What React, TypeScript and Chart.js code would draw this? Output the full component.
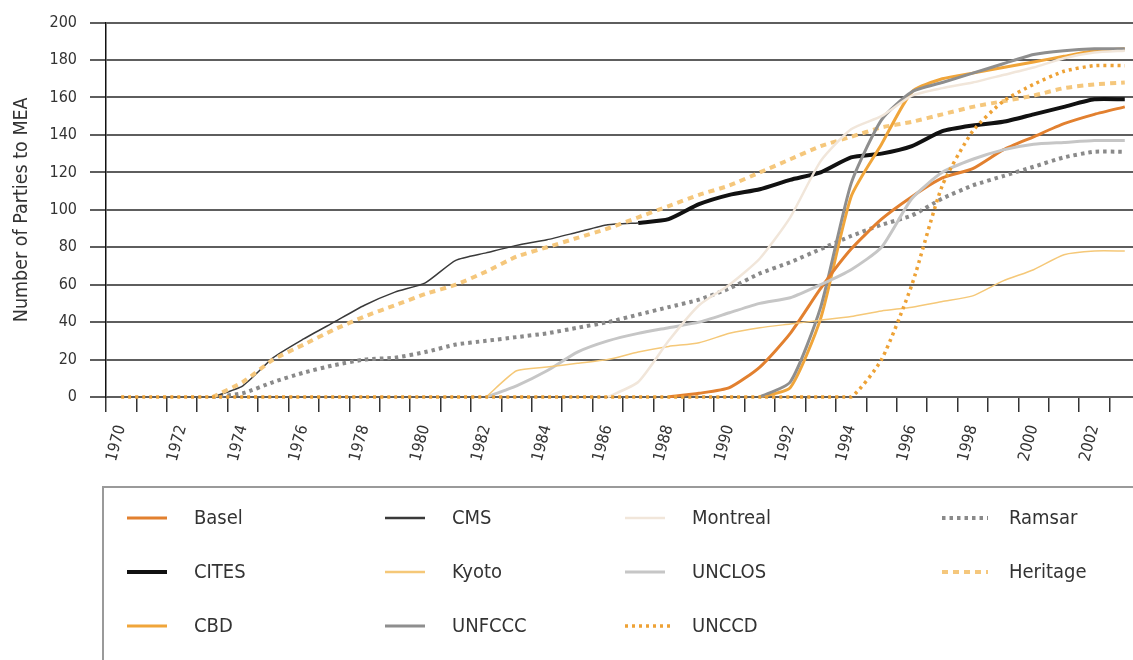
import React, { useEffect, useRef } from "react";
import { Chart, registerables } from "chart.js";

Chart.register(...registerables);

const years = [
  1970, 1971, 1972, 1973, 1974, 1975, 1976, 1977, 1978, 1979,
  1980, 1981, 1982, 1983, 1984, 1985, 1986, 1987, 1988, 1989,
  1990, 1991, 1992, 1993, 1994, 1995, 1996, 1997, 1998, 1999,
  2000, 2001, 2002, 2003,
];

const N = null;

const basel = [N, N, N, N, N, N, N, N, N, N, N, N, N, N, N, N, N, N,
  0, 2, 5, 16, 34, 58, 79, 95, 107, 117, 122, 132, 139, 146, 151, 155];
const cites = [N, N, N, N, N, N, N, N, N, N, N, N, N, N, N, N, N,
  93, 95, 103, 108, 111, 116, 120, 128, 130, 134, 142, 145, 147, 151, 155, 159, 159];
const cbd = [N, N, N, N, N, N, N, N, N, N, N, N, N, N, N, N, N, N, N, N, N,
  0, 5, 42, 107, 135, 163, 170, 173, 176, 179, 182, 185, 186];
const cms = [N, N, N, 0, 6, 21, 31, 40, 49, 56, 61, 73, 77, 81, 84, 88, 92, 93,
  N, N, N, N, N, N, N, N, N, N, N, N, N, N, N, N];
const kyoto = [N, N, N, N, N, N, N, N, N, N, N, N,
  0, 14, 16, 18, 20, 24, 27, 29, 34, 37, 39, 41, 43, 46, 48, 51, 54, 62, 68, 76, 78, 78];
const unfccc = [N, N, N, N, N, N, N, N, N, N, N, N, N, N, N, N, N, N, N, N, N,
  0, 8, 48, 114, 148, 163, 168, 173, 178, 183, 185, 186, 186];
const montreal = [N, N, N, N, N, N, N, N, N, N, N, N, N, N, N, N,
  0, 8, 30, 49, 60, 74, 96, 126, 143, 150, 161, 165, 168, 172, 176, 181, 184, 185];
const unclos = [N, N, N, N, N, N, N, N, N, N, N, N,
  0, 6, 14, 24, 30, 34, 37, 40, 45, 50, 53, 60, 68, 80, 106, 120, 127, 132, 135, 136, 137, 137];
const unccd = [0, 0, 0, 0, 0, 0, 0, 0, 0, 0, 0, 0, 0, 0, 0, 0, 0, 0, 0, 0, 0, 0, 0, 0, 0,
  20, 60, 113, 142, 158, 167, 174, 177, 177];
const ramsar = [N, N, N, 0, 2, 8, 13, 17, 20, 21, 24, 28, 30, 32, 34, 37, 40, 44, 48, 52,
  58, 66, 72, 79, 86, 92, 97, 106, 113, 118, 123, 128, 131, 131];
const heritage = [N, N, N, 0, 8, 20, 28, 36, 43, 49, 55, 60, 67, 75, 80, 85, 90, 96, 102, 108,
  113, 120, 127, 134, 139, 144, 147, 151, 155, 158, 161, 165, 167, 168];

const yTicks = [0, 20, 40, 60, 80, 100, 120, 140, 160, 180, 200];

const FONT = '"Liberation Sans Narrow", "Arial Narrow", "DejaVu Sans Condensed", "Liberation Sans", sans-serif';

// legend grid (column-major), by dataset label
const legendColumns = [
  ["Basel", "CITES", "CBD"],
  ["CMS", "Kyoto", "UNFCCC"],
  ["Montreal", "UNCLOS", "UNCCD"],
  ["Ramsar", "Heritage"],
];

export default function App() {
  const ref = useRef<HTMLCanvasElement>(null);

  useEffect(() => {
    if (!ref.current) return;

    const legendPlugin = {
      id: "boxLegend",
      afterDraw(chart: any) {
        const ctx = chart.ctx;
        ctx.save();
        ctx.strokeStyle = "#9a9a9a";
        ctx.lineWidth = 2;
        ctx.beginPath();
        ctx.moveTo(103, 700);
        ctx.lineTo(103, 487);
        ctx.lineTo(1300, 487);
        ctx.stroke();
        const colX = [127, 385, 625, 942];
        const rowY = [518, 572, 626];
        const dsByLabel: Record<string, any> = {};
        chart.data.datasets.forEach((d: any) => (dsByLabel[d.label] = d));
        legendColumns.forEach((col, ci) => {
          col.forEach((name, ri) => {
            const d = dsByLabel[name];
            const x = colX[ci];
            const y = rowY[ri];
            ctx.save();
            ctx.strokeStyle = d.borderColor;
            ctx.lineWidth = Math.max(2.5, d.borderWidth);
            ctx.setLineDash(d.borderDash || []);
            ctx.beginPath();
            ctx.moveTo(x, y);
            ctx.lineTo(x + (d.borderDash ? 46 : 40), y);
            ctx.stroke();
            ctx.restore();
            ctx.fillStyle = "#333";
            ctx.font = `20px ${FONT}`;
            ctx.textBaseline = "middle";
            ctx.textAlign = "left";
            ctx.fillText(name, x + 67, y + 1);
          });
        });
        ctx.restore();
      },
    };

    const line = (label: string, data: (number | null)[], color: string, width: number, order: number, dash?: number[]) => ({
      label,
      data,
      borderColor: color,
      backgroundColor: color,
      borderWidth: width,
      borderDash: dash,
      pointRadius: 0,
      tension: 0.2,
      fill: false,
      order,
      spanGaps: false,
      clip: 6,
    });

    const chart = new Chart(ref.current, {
      type: "line",
      data: {
        labels: years.map(String),
        datasets: [
          line("UNCCD", unccd, "#eea236", 3.5, 1, [3, 4]),
          line("Montreal", montreal, "#f1e6da", 2.5, 2),
          line("Kyoto", kyoto, "#f5c878", 1.5, 3),
          line("UNCLOS", unclos, "#c6c6c6", 3, 4),
          line("Basel", basel, "#e2802f", 3, 5),
          line("UNFCCC", unfccc, "#8e8e8e", 3, 6),
          line("CBD", cbd, "#f0a53a", 3, 7),
          line("Heritage", heritage, "#f5c77c", 4, 8, [6, 5]),
          line("CITES", cites, "#111111", 4, 9),
          line("CMS", cms, "#3a3a3a", 1.5, 10),
          line("Ramsar", ramsar, "#8a8a8a", 4, 11, [3.5, 4]),
        ],
      },
      options: {
        animation: false,
        responsive: false,
        layout: { padding: { top: 18, left: 0, right: 0, bottom: 0 } },
        plugins: {
          legend: { display: false },
          tooltip: { enabled: false },
        },
        scales: {
          x: {
            type: "category",
            offset: true,
            grid: {
              offset: true,
              drawOnChartArea: false,
              drawTicks: true,
              tickLength: 15,
              color: "#333",
              lineWidth: 1.5,
            },
            border: { display: false },
            ticks: {
              autoSkip: false,
              minRotation: 75,
              maxRotation: 75,
              padding: 11,
              color: "#333",
              font: { family: FONT, size: 16 },
              callback: (_v: any, i: number) => (years[i] % 2 === 0 ? String(years[i]) : ""),
            },
            afterFit: (s: any) => {
              s.height = 660 - 397;
              s.paddingLeft = 0;
              s.paddingRight = 0;
            },
          },
          y: {
            min: 0,
            max: 200,
            afterBuildTicks: (s: any) => {
              s.ticks = yTicks.map((v) => ({ value: v }));
            },
            grid: {
              color: "#5e5e5e",
              lineWidth: 2,
              tickLength: 16,
            },
            border: { display: true, color: "#111", width: 1.5 },
            ticks: {
              padding: 13,
              color: "#333",
              font: { family: FONT, size: 16 },
            },
            title: {
              display: true,
              text: "Number of Parties to MEA",
              color: "#333",
              font: { family: FONT, size: 19.5 },
              padding: { top: 10, bottom: 0 },
            },
            afterFit: (s: any) => {
              s.width = 106;
            },
          },
        },
      },
      plugins: [legendPlugin],
    });

    return () => chart.destroy();
  }, []);

  return (
    <div style={{ position: "fixed", left: 0, top: 0, width: 1133, height: 660, overflow: "hidden", background: "#fff" }}>
      <canvas ref={ref} width={1140} height={660} style={{ width: 1140, height: 660, display: "block" }} />
    </div>
  );
}
